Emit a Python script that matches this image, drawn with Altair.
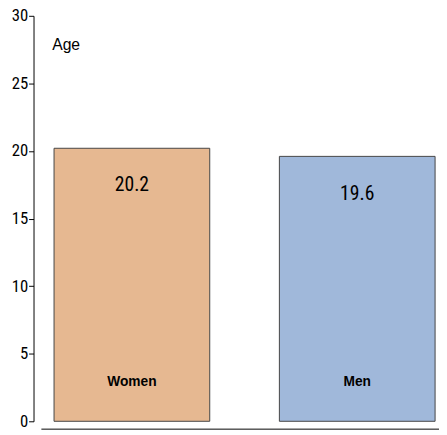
import altair as alt
import pandas as pd

groups = ["Women", "Men"]
ages = [20.2, 19.6]
labels = ["20.2", "19.6"]
colors = ["#e6b891", "#a0b8da"]

data = pd.DataFrame({"group": groups, "age": ages, "label": labels})
one = pd.DataFrame({"t": ["Age"]})

cond = "Roboto Condensed, Liberation Sans Narrow, DejaVu Sans Condensed, sans-serif"

x = alt.X("group:N", sort=groups, axis=None,
          scale=alt.Scale(paddingInner=0.309, paddingOuter=0.052, align=0.875,
                          range=[0, 412], round=False))
y = alt.Y("age:Q", scale=alt.Scale(domain=[0, 30]),
          axis=alt.Axis(values=[0, 5, 10, 15, 20, 25, 30], grid=False, title=None,
                        domainColor="#000", tickColor="#000", tickSize=5,
                        labelFont=cond, labelFontSize=17, labelColor="#000",
                        labelPadding=1, labelFlush=False))

base = alt.Chart(data)

bars = base.mark_bar(stroke="#444", strokeWidth=1).encode(
    x=x, y=y,
    color=alt.Color("group:N", scale=alt.Scale(domain=groups, range=colors), legend=None),
)

values = base.mark_text(baseline="middle", fontSize=20, font=cond, dy=38).encode(
    x=x, y=y, text="label:N")

names = base.mark_text(baseline="middle", fontSize=14, fontWeight="bold",
                       font="Liberation Sans").encode(
    x=x, y=alt.value(373), text="group:N")

title = alt.Chart(one).mark_text(align="left", baseline="middle", fontSize=16,
                                 font="Liberation Sans").encode(
    x=alt.value(19), y=alt.value(30), text="t:N")

baseline = alt.Chart(one).mark_rule(color="#000", strokeWidth=1).encode(
    x=alt.value(8), x2=alt.value(413), y=alt.value(421))

chart = (bars + values + names + title + baseline).properties(
    width=413, height=413, padding={"left": 26, "top": 4, "right": 0, "bottom": 10},
    autosize=alt.AutoSizeParams(type="none"),
).configure_view(stroke=None)

chart.save("out.html", embed_options={"renderer": "svg", "actions": False})
